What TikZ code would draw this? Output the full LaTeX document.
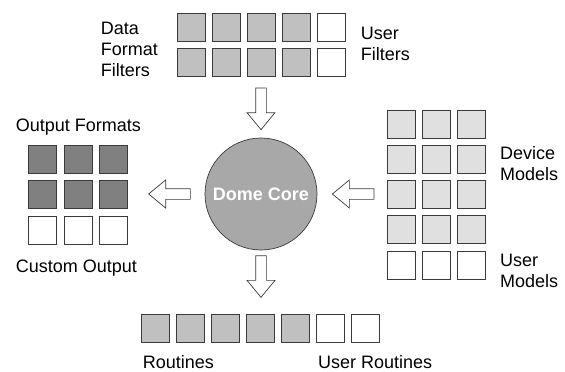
\documentclass[tikz,border=0pt]{standalone}
\usepackage{fontspec}
\setmainfont{Liberation Sans}
\usetikzlibrary{calc}
\definecolor{gmid}{HTML}{C0C0C0}
\definecolor{gdark}{HTML}{808080}
\definecolor{glight}{HTML}{E0E0E0}
\definecolor{gcore}{HTML}{A8A8A8}
\definecolor{edge}{HTML}{3A3A3A}
\begin{document}
\begin{tikzpicture}[x=1pt,y=-1pt,
  cell/.style={draw=edge, line width=0.7pt, minimum size=28pt, inner sep=0pt},
  midcell/.style={cell, fill=gmid},
  darkcell/.style={cell, fill=gdark},
  lightcell/.style={cell, fill=glight},
  blankcell/.style={cell, fill=white},
  lbl/.style={font=\fontsize{18}{21}\selectfont, inner sep=0pt, anchor=base west, align=left},
  pics/blockarr/.style={code={
    \draw[draw=edge, line width=0.7pt, fill=white, line join=miter]
      (0,0) -- (-17,14) -- (-17,5.35) -- (-41.7,5.35) -- (-41.7,-5.35)
      -- (-17,-5.35) -- (-17,-14) -- cycle;}}
]
\useasboundingbox (0,0) rectangle (565,372);

% Dome core
\node[circle, draw=edge, line width=0.7pt, fill=gcore, minimum size=112pt, inner sep=0pt,
      text=white, font=\fontsize{18}{21}\selectfont\bfseries] (core) at (261,194) {Dome Core};

% top grid (filters)
\foreach \c in {0,1,2,3} {
  \node[midcell] (t1\c) at (191+35*\c,27) {};
  \node[midcell] (t2\c) at (191+35*\c,62) {};
}
\node[blankcell] (t14) at (331,27) {};
\node[blankcell] (t24) at (331,62) {};

% left grid (outputs)
\foreach \c/\x in {0/42.5,1/78,2/113.2} {
  \node[darkcell] (l1\c) at (\x,159) {};
  \node[darkcell] (l2\c) at (\x,194.5) {};
  \node[blankcell] (l3\c) at (\x,230) {};
}

% right grid (models)
\foreach \c/\x in {0/401,1/436,2/471} {
  \node[lightcell] (r1\c) at (\x,124) {};
  \node[lightcell] (r2\c) at (\x,159.5) {};
  \node[lightcell] (r3\c) at (\x,194.5) {};
  \node[lightcell] (r4\c) at (\x,229.5) {};
  \node[blankcell] (r5\c) at (\x,265) {};
}

% bottom row (routines)
\foreach \c in {0,1,2,3,4} {
  \node[midcell] (b\c) at (155+35*\c,328) {};
}
\node[blankcell] (b5) at (330,328) {};
\node[blankcell] (b6) at (365,328) {};

% labels (base = baseline of last line)
\node[lbl] (ldff) at (100.7,76) {Data\\Format\\Filters};
\node[lbl] (luf) at (360.7,60.5) {User\\Filters};
\node[lbl] (lof) at (15.7,131.7) {Output Formats};
\node[lbl] (lco) at (15.7,272.7) {Custom Output};
\node[lbl] (ldm) at (500,180.5) {Device\\Models};
\node[lbl] (lum) at (500,287.5) {User\\Models};
\node[lbl] (lr) at (142.7,368.3) {Routines};
\node[lbl] (lur) at (318,368.3) {User Routines};

% block arrows
\coordinate (atop) at ($(core.north)+(0,-8)$);
\coordinate (abot) at ($(core.south)+(0,47)$);
\coordinate (aleft) at ($(core.west)+(-56,0)$);
\coordinate (aright) at ($(core.east)+(15,0)$);
\pic[rotate=-90] at (atop) {blockarr};
\pic[rotate=-90] at (abot) {blockarr};
\pic[rotate=180] at (aleft) {blockarr};
\pic[rotate=180] at (aright) {blockarr};
\end{tikzpicture}
\end{document}
